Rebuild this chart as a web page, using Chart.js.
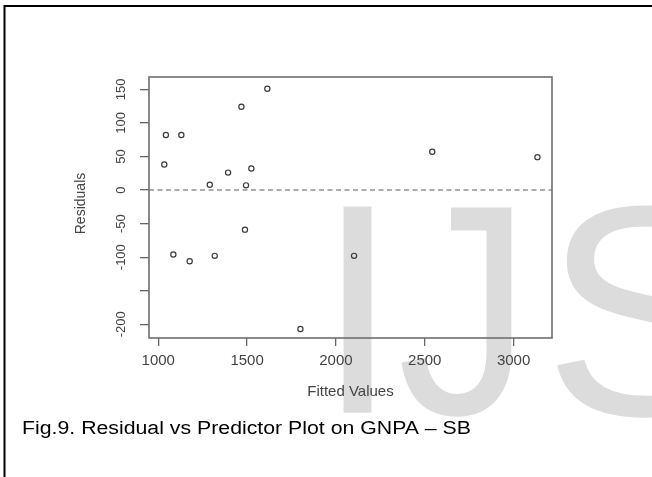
<!DOCTYPE html>
<html>
<head>
<meta charset="utf-8">
<script src="https://cdn.jsdelivr.net/npm/chart.js@4.4.1/dist/chart.umd.min.js"></script>
<style>
  html, body { margin: 0; padding: 0; background: #fff; }
  canvas { display: block; }
</style>
</head>
<body>
<canvas id="residPlot" width="652" height="477"></canvas>
<script>
// values
const fittedValues = [1034, 1043, 1130, 1290, 1393, 1468, 1494, 1524, 1614, 1085, 1177, 1318, 1488, 1800, 2102, 2542, 3134];
const residuals    = [38, 82, 82, 8, 26, 124, 7, 32, 151, -96, -106, -98, -59, -207, -98, 57, 49];

const xTicks = [1000, 1500, 2000, 2500, 3000];
const yTicks = [150, 100, 50, 0, -50, -100, -150, -200];
const yTickLabels = ['150', '100', '50', '0', '-50', '-100', '', '-200'];

const xTitle = 'Fitted Values';
const yTitle = 'Residuals';
const caption = 'Fig.9. Residual vs Predictor Plot on GNPA – SB';
const watermark = 'IJS';

const FONT = '"Liberation Sans", Arial, sans-serif';

const figurePlugin = {
    id: 'figure',
    beforeDraw(chart) {
        const ctx = chart.ctx;
        ctx.save();
        ctx.fillStyle = '#fff';
        ctx.fillRect(0, 0, chart.width, chart.height);

        // faint journal watermark behind the plot, letters placed one by one
        ctx.fillStyle = '#dcdcdc';
        ctx.textAlign = 'left';
        ctx.textBaseline = 'alphabetic';
        ctx.font = '100px ' + FONT;
        const cap = ctx.measureText('I').actualBoundingBoxAscent;
        ctx.font = (100 * 206.7 / cap).toFixed(1) + 'px ' + FONT;
        const base = 412.7;
        const [cI, cJ, cS] = watermark.split('');
        let m = ctx.measureText(cI);
        ctx.fillText(cI, 339.3 + m.actualBoundingBoxLeft, base);

        // J is a touch wider in the scan: hook at ~401, stem edge at ~514
        m = ctx.measureText(cJ);
        const jw = m.actualBoundingBoxLeft + m.actualBoundingBoxRight;
        const jsx = 113 / jw;
        ctx.save();
        ctx.translate(401.5, base + 1);
        ctx.scale(jsx, 1);
        ctx.fillText(cJ, m.actualBoundingBoxLeft, 0);
        ctx.restore();

        m = ctx.measureText(cS);
        ctx.fillText(cS, 553 + m.actualBoundingBoxLeft, base + 2);

        // page frame (left + top only)
        ctx.strokeStyle = '#000';
        ctx.lineWidth = 2;
        ctx.beginPath();
        ctx.moveTo(4.5, chart.height);
        ctx.lineTo(4.5, 6);
        ctx.lineTo(chart.width, 6);
        ctx.stroke();
        ctx.restore();
    },
    beforeDatasetsDraw(chart) {
        const { ctx, chartArea: a, scales: { y } } = chart;
        const y0 = y.getPixelForValue(0);
        ctx.save();
        ctx.strokeStyle = '#929292';
        ctx.lineWidth = 1.6;
        ctx.setLineDash([5, 3.5]);
        ctx.beginPath();
        ctx.moveTo(a.left, y0);
        ctx.lineTo(a.right, y0);
        ctx.stroke();
        ctx.setLineDash([]);
        ctx.strokeStyle = '#6e6e6e';
        ctx.lineWidth = 1.6;
        ctx.strokeRect(a.left, a.top, a.right - a.left, a.bottom - a.top);
        ctx.restore();
    },
    afterDraw(chart) {
        const { ctx, scales: { x, y } } = chart;
        ctx.save();
        ctx.fillStyle = '#444';

        // rotated y tick labels, R style
        ctx.font = '13px ' + FONT;
        ctx.textAlign = 'center';
        ctx.textBaseline = 'middle';
        y.ticks.forEach(t => {
            const i = yTicks.indexOf(t.value);
            const label = i >= 0 ? yTickLabels[i] : '';
            if (!label) return;
            ctx.save();
            ctx.translate(121.5, y.getPixelForValue(t.value));
            ctx.rotate(-Math.PI / 2);
            ctx.fillText(label, 0, 0);
            ctx.restore();
        });

        // axis titles
        ctx.font = '14px ' + FONT;
        ctx.save();
        ctx.translate(81, 203.5);
        ctx.rotate(-Math.PI / 2);
        ctx.fillText(yTitle, 0, 0);
        ctx.restore();

        ctx.textBaseline = 'alphabetic';
        ctx.font = '15px ' + FONT;
        ctx.fillText(xTitle, (x.left + x.right) / 2, 396);

        // figure caption, slightly wide like the scanned page
        ctx.fillStyle = '#000';
        ctx.font = '18px ' + FONT;
        ctx.textAlign = 'left';
        const sx = 449 / ctx.measureText(caption).width;
        ctx.translate(22, 434);
        ctx.scale(sx, 1);
        ctx.fillText(caption, 0, 0);
        ctx.restore();
    }
};

const ctx = document.getElementById('residPlot').getContext('2d');
new Chart(ctx, {
    type: 'scatter',
    data: {
        datasets: [{
            data: fittedValues.map((v, i) => ({ x: v, y: residuals[i] })),
            pointStyle: 'circle',
            pointRadius: 2.6,
            pointHoverRadius: 2.6,
            pointBorderWidth: 1.2,
            pointBorderColor: '#3a3a3a',
            pointBackgroundColor: 'rgba(255,255,255,0)',
            showLine: false
        }]
    },
    options: {
        responsive: false,
        animation: false,
        devicePixelRatio: 1,
        layout: { padding: { top: 77, right: 100, left: 0, bottom: 0 } },
        plugins: {
            legend: { display: false },
            tooltip: { enabled: false }
        },
        scales: {
            x: {
                type: 'linear',
                min: 948,
                max: 3216,
                afterBuildTicks: s => { s.ticks = xTicks.map(v => ({ value: v })); },
                afterFit: s => { s.height = 139; },
                border: { display: false },
                grid: { drawOnChartArea: false, drawTicks: true, tickLength: 8, color: '#666', lineWidth: 1.3 },
                ticks: {
                    color: '#444',
                    padding: 6,
                    maxRotation: 0,
                    font: { size: 15, family: FONT },
                    callback: v => String(v)
                }
            },
            y: {
                type: 'linear',
                min: -220.4,
                max: 168.4,
                afterBuildTicks: s => { s.ticks = yTicks.map(v => ({ value: v })); },
                afterFit: s => { s.width = 149; },
                border: { display: false },
                grid: { drawOnChartArea: false, drawTicks: true, tickLength: 9, color: '#666', lineWidth: 1.3 },
                ticks: { display: false }
            }
        }
    },
    plugins: [figurePlugin]
});
</script>
</body>
</html>
